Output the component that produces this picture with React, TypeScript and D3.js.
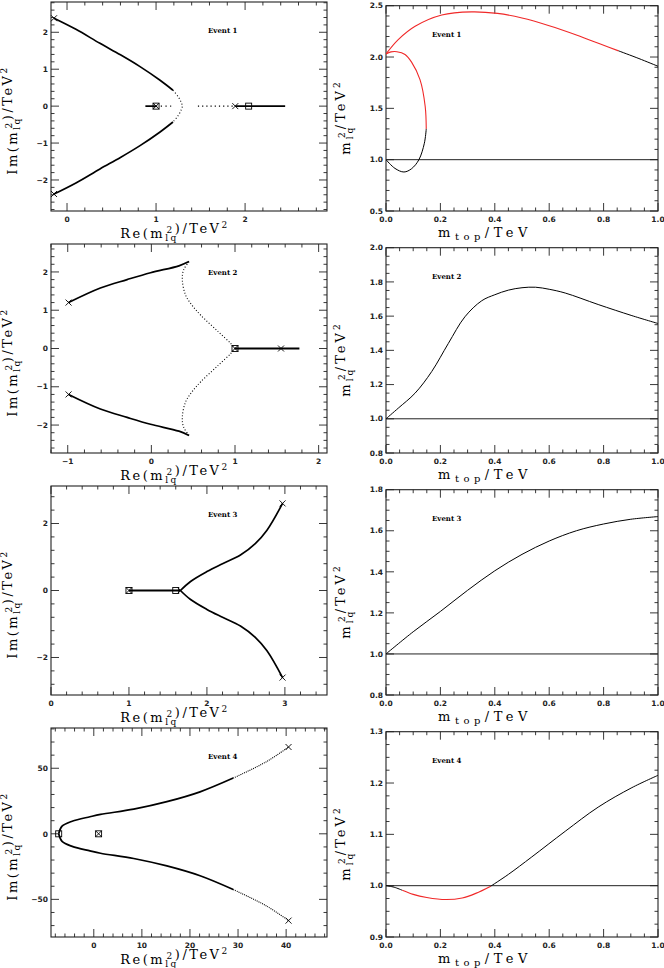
import React from 'react';
import * as d3 from 'd3';

// ---------- Event 1 (left: complex plane) ----------
const ev1UpRe = [-0.146, 0.1, 0.37, 0.6, 0.82, 1.045, 1.19];
const ev1UpIm = [2.38, 2.08, 1.7, 1.39, 1.07, 0.7, 0.43];
const ev1LoRe = [-0.146, 0.1, 0.37, 0.6, 0.82, 1.045, 1.19];
const ev1LoIm = [-2.38, -2.08, -1.7, -1.39, -1.07, -0.7, -0.43];
const ev1VtxRe = [1.19, 1.25, 1.283, 1.295, 1.283, 1.25, 1.19];
const ev1VtxIm = [0.43, 0.25, 0.1, 0, -0.1, -0.25, -0.43];
const ev1SolidARe = [0.88, 1.0];
const ev1DotARe = [1.0, 1.17];
const ev1DotBRe = [1.47, 1.89];
const ev1SolidBRe = [1.89, 2.45];
const ev1SqRe = [1.0, 2.04];
const ev1SqIm = [0, 0];
const ev1XRe = [-0.146, -0.146, 1.0, 1.89];
const ev1XIm = [2.38, -2.38, 0, 0];

// ---------- Event 1 (right: m_lq^2 vs m_top) ----------
const ev1RedUpX = [0, 0.045, 0.107, 0.205, 0.315, 0.41, 0.5, 0.6, 0.7, 0.8, 0.855];
const ev1RedUpY = [2.03, 2.17, 2.3, 2.41, 2.44, 2.425, 2.38, 2.305, 2.215, 2.115, 2.06];
const ev1BlkUpX = [0.855, 0.93, 1.0];
const ev1BlkUpY = [2.06, 1.985, 1.91];
const ev1RedLoopX = [0, 0.018, 0.04, 0.07, 0.094, 0.125, 0.144, 0.148];
const ev1RedLoopY = [2.03, 2.05, 2.052, 2.025, 1.95, 1.78, 1.52, 1.3];
const ev1BlkLoopX = [0.148, 0.141, 0.121, 0.094, 0.066, 0.033, 0];
const ev1BlkLoopY = [1.3, 1.16, 1.0, 0.912, 0.88, 0.915, 1.0];

// ---------- Event 2 ----------
const ev2UpRe = [-0.99, -0.61, -0.29, -0.01, 0.33, 0.45];
const ev2UpIm = [1.2, 1.58, 1.8, 1.98, 2.16, 2.27];
const ev2LoRe = [-0.99, -0.61, -0.29, -0.01, 0.33, 0.45];
const ev2LoIm = [-1.2, -1.58, -1.8, -1.98, -2.16, -2.27];
const ev2CuspUpRe = [0.45, 0.385, 0.37, 0.41, 0.49, 0.59, 0.8, 0.95, 1.0];
const ev2CuspUpIm = [2.27, 2.05, 1.8, 1.39, 1.12, 0.87, 0.44, 0.13, 0];
const ev2CuspLoRe = [0.45, 0.385, 0.37, 0.41, 0.49, 0.59, 0.8, 0.95, 1.0];
const ev2CuspLoIm = [-2.27, -2.05, -1.8, -1.39, -1.12, -0.87, -0.44, -0.13, 0];
const ev2AxisRe = [1.0, 1.77];
const ev2SqRe = [1.0];
const ev2SqIm = [0];
const ev2XRe = [-0.99, -0.99, 1.0, 1.55];
const ev2XIm = [1.2, -1.2, 0, 0];

const ev2CurveX = [0, 0.045, 0.107, 0.168, 0.229, 0.29, 0.352, 0.4, 0.45, 0.5, 0.55, 0.6, 0.659, 0.78, 0.904, 1.0];
const ev2CurveY = [1.0, 1.062, 1.15, 1.276, 1.44, 1.596, 1.69, 1.725, 1.752, 1.766, 1.769, 1.757, 1.735, 1.668, 1.603, 1.557];

// ---------- Event 3 ----------
const ev3UpRe = [1.66, 1.79, 2.0, 2.2, 2.43, 2.62, 2.77, 2.97];
const ev3UpIm = [0, 0.27, 0.565, 0.8, 1.06, 1.4, 1.8, 2.6];
const ev3LoRe = [1.66, 1.79, 2.0, 2.2, 2.43, 2.62, 2.77, 2.97];
const ev3LoIm = [0, -0.27, -0.565, -0.8, -1.06, -1.4, -1.8, -2.6];
const ev3AxisRe = [1.0, 1.66];
const ev3SqRe = [1.0, 1.6];
const ev3SqIm = [0, 0];
const ev3XRe = [1.0, 1.66, 2.97, 2.97];
const ev3XIm = [0, 0, 2.6, -2.6];

const ev3CurveX = [0, 0.1, 0.2, 0.3, 0.4, 0.5, 0.6, 0.7, 0.8, 0.9, 1.0];
const ev3CurveY = [1.0, 1.108, 1.207, 1.31, 1.405, 1.485, 1.55, 1.6, 1.633, 1.656, 1.669];

// ---------- Event 4 ----------
const ev4UpRe = [-7.3, -6.6, -4.5, -0.8, 1.4, 8.3, 15.2, 22.1, 29];
const ev4UpIm = [0, 5.8, 9.6, 13.0, 14.8, 18.8, 24.5, 32.0, 42.5];
const ev4LoRe = [-7.3, -6.6, -4.5, -0.8, 1.4, 8.3, 15.2, 22.1, 29];
const ev4LoIm = [0, -5.8, -9.6, -13.0, -14.8, -18.8, -24.5, -32.0, -42.5];
const ev4TailUpRe = [29, 35.9, 40.5];
const ev4TailUpIm = [42.5, 55.0, 66.2];
const ev4TailLoRe = [29, 35.9, 40.5];
const ev4TailLoIm = [-42.5, -55.0, -66.2];
const ev4SqRe = [-7.3, 1.0];
const ev4SqIm = [0, 0];
const ev4XRe = [1.0, 40.5, 40.5];
const ev4XIm = [0, 66.2, -66.2];

const ev4BlkAX = [0, 0.03, 0.06];
const ev4BlkAY = [1.0, 0.997, 0.991];
const ev4RedX = [0.06, 0.1, 0.15, 0.22, 0.28, 0.33, 0.385];
const ev4RedY = [0.991, 0.983, 0.977, 0.973, 0.976, 0.985, 0.999];
const ev4BlkBX = [0.385, 0.45, 0.536, 0.659, 0.78, 0.904, 1.0];
const ev4BlkBY = [0.999, 1.022, 1.056, 1.106, 1.153, 1.191, 1.215];

// ---------- axis ticks ----------
const ev1LeftXTicks = [0, 1, 2];
const ev1LeftYTicks = [-2, -1, 0, 1, 2];
const ev2LeftXTicks = [-1, 0, 1, 2];
const ev2LeftYTicks = [-2, -1, 0, 1, 2];
const ev3LeftXTicks = [0, 1, 2, 3];
const ev3LeftYTicks = [-2, 0, 2];
const ev4LeftXTicks = [0, 10, 20, 30, 40];
const ev4LeftYTicks = [-50, 0, 50];
const rightXTicks = [0, 0.2, 0.4, 0.6, 0.8, 1.0];
const ev1RightYTicks = [0.5, 1.0, 1.5, 2.0, 2.5];
const ev2RightYTicks = [0.8, 1.0, 1.2, 1.4, 1.6, 1.8, 2.0];
const ev3RightYTicks = [0.8, 1.0, 1.2, 1.4, 1.6, 1.8];
const ev4RightYTicks = [0.9, 1.0, 1.1, 1.2, 1.3];
const eventLabels = ['Event 1', 'Event 2', 'Event 3', 'Event 4'];

type Seg = { x: number[]; y: number[]; color?: string; dash?: string; width?: number };
type Mk = { x: number[]; y: number[]; kind: 'x' | 'sq' };
type Cfg = {
  top: number;
  side: 'L' | 'R';
  xDom: [number, number];
  yDom: [number, number];
  xTicks: number[];
  yTicks: number[];
  xMinor: number;
  yMinor: number;
  xFmt: (v: number) => string;
  yFmt: (v: number) => string;
  label: string;
  segs: Seg[];
  marks: Mk[];
  hline?: number;
};

const INK = '#222';
const RED = '#f02828';
const intFmt = (v: number) => (v < 0 ? '\u2212' + Math.abs(v) : String(v));
const f1 = d3.format('.1f');
const TF = 'DejaVu Serif';
const TS = 13;
const SS = 9;

// m^2_lq block: subscript "lq" with superscript "2" stacked above it
function MLq({ ls }: { ls: number }) {
  const lqW = 0.96 * SS;
  const twoW = 0.64 * SS;
  const back = -(lqW + 2 * ls) + (lqW - twoW) / 2;
  const fwd = lqW + ls - ((lqW - twoW) / 2 + twoW + ls);
  return (
    <>
      <tspan fontSize={SS} dy={2.5}>lq</tspan>
      <tspan fontSize={SS} dx={back} dy={-7.5}>2</tspan>
      <tspan dx={fwd + 1} dy={5}>{''}</tspan>
    </>
  );
}

function Panel({ c }: { c: Cfg }) {
  const L = c.side === 'L';
  const x0 = L ? 51 : 386;
  const x1 = L ? 327 : 658;
  const y0 = c.top + (L ? 2 : 5.7);
  const y1 = c.top + 211;
  const xs = d3.scaleLinear().domain(c.xDom).range([x0, x1]);
  const ys = d3.scaleLinear().domain(c.yDom).range([y1, y0]);
  const line = d3
    .line<[number, number]>()
    .x((d) => xs(d[0]))
    .y((d) => ys(d[1]))
    .curve(d3.curveCatmullRom.alpha(0.5));
  const minors = (dom: [number, number], step: number) => {
    const out: number[] = [];
    const a = Math.ceil(dom[0] / step - 1e-6);
    const b = Math.floor(dom[1] / step + 1e-6);
    for (let i = a; i <= b; i++) out.push(+(i * step).toFixed(6));
    return out;
  };
  const xMin = minors(c.xDom, c.xMinor).filter((v) => !c.xTicks.some((t) => Math.abs(t - v) < 1e-6));
  const yMin = minors(c.yDom, c.yMinor).filter((v) => !c.yTicks.some((t) => Math.abs(t - v) < 1e-6));
  const MJ = 8;
  const MN = 3.5;
  const tickFont = { fontFamily: 'DejaVu Sans', fontWeight: 700, fontSize: 7.5, fill: INK } as const;
  const LSx = 2.5;
  const titleFont = { fontFamily: TF, fontSize: TS, fill: '#000' } as const;
  return (
    <g>
      <defs>
        <clipPath id={`clip-${c.side}-${c.top}`}>
          <rect x={x0} y={y0} width={x1 - x0} height={y1 - y0} />
        </clipPath>
      </defs>
      <g stroke={INK} strokeWidth={0.9}>
        {c.xTicks.map((t) => (
          <g key={'xt' + t}>
            <line x1={xs(t)} x2={xs(t)} y1={y1} y2={y1 - MJ} />
            <line x1={xs(t)} x2={xs(t)} y1={y0} y2={y0 + MJ} />
          </g>
        ))}
        {xMin.map((t) => (
          <g key={'xm' + t}>
            <line x1={xs(t)} x2={xs(t)} y1={y1} y2={y1 - MN} />
            <line x1={xs(t)} x2={xs(t)} y1={y0} y2={y0 + MN} />
          </g>
        ))}
        {c.yTicks.map((t) => (
          <g key={'yt' + t}>
            <line x1={x0} x2={x0 + MJ} y1={ys(t)} y2={ys(t)} />
            <line x1={x1} x2={x1 - MJ} y1={ys(t)} y2={ys(t)} />
          </g>
        ))}
        {yMin.map((t) => (
          <g key={'ym' + t}>
            <line x1={x0} x2={x0 + MN} y1={ys(t)} y2={ys(t)} />
            <line x1={x1} x2={x1 - MN} y1={ys(t)} y2={ys(t)} />
          </g>
        ))}
        <rect x={x0} y={y0} width={x1 - x0} height={y1 - y0} fill="none" strokeWidth={1.1} />
      </g>
      {c.xTicks.map((t) => (
        <text key={'xl' + t} x={xs(t)} y={y1 + 10.5} textAnchor="middle" {...tickFont}>
          {c.xFmt(t)}
        </text>
      ))}
      {c.yTicks.map((t) => (
        <text key={'yl' + t} x={x0 - 3} y={ys(t)} dy="0.36em" textAnchor="end" {...tickFont}>
          {c.yFmt(t)}
        </text>
      ))}
      <g clipPath={`url(#clip-${c.side}-${c.top})`}>
        {c.hline !== undefined && (
          <line x1={x0} x2={x1} y1={ys(c.hline)} y2={ys(c.hline)} stroke={INK} strokeWidth={1} />
        )}
        {c.segs.map((s, i) => (
          <path
            key={'s' + i}
            d={line(s.x.map((v, j) => [v, s.y[j]] as [number, number])) || ''}
            fill="none"
            stroke={s.color || '#000'}
            strokeWidth={s.width || 1}
            strokeDasharray={s.dash}
          />
        ))}
      </g>
      {c.marks.map((m, i) =>
        m.x.map((v, j) => {
          const px = xs(v);
          const py = ys(m.y[j]);
          return m.kind === 'x' ? (
            <path
              key={'m' + i + '-' + j}
              d={`M${px - 3},${py - 3}L${px + 3},${py + 3}M${px - 3},${py + 3}L${px + 3},${py - 3}`}
              stroke="#000"
              strokeWidth={0.9}
            />
          ) : (
            <rect key={'m' + i + '-' + j} x={px - 3} y={py - 3} width={6} height={6} fill="none" stroke="#000" strokeWidth={0.9} />
          );
        })
      )}
      <text
        x={L ? 208 : 432}
        y={c.top + (L ? 33 : 36.5)}
        fontFamily="DejaVu Serif"
        fontWeight={700}
        fontSize={7}
        fill="#000"
      >
        {c.label}
      </text>
      {L ? (
        <>
          <text x={175} y={c.top + 238} textAnchor="middle" {...titleFont} letterSpacing={LSx}>
            Re(m
            <MLq ls={LSx} />
            <tspan>)/TeV</tspan>
            <tspan fontSize={SS} dy={-5}>2</tspan>
          </text>
          <text transform={`translate(17,${c.top + 120}) rotate(-90)`} textAnchor="middle" {...titleFont} letterSpacing={LSx}>
            Im(m
            <MLq ls={LSx} />
            <tspan>)/TeV</tspan>
            <tspan fontSize={SS} dy={-5}>2</tspan>
          </text>
        </>
      ) : (
        <>
          <text x={485} y={c.top + 236.5} textAnchor="middle" {...titleFont} letterSpacing={4.5}>
            m
            <tspan fontSize={SS + 1} dy={3}>top</tspan>
            <tspan dy={-3}>/TeV</tspan>
          </text>
          <text transform={`translate(350,${c.top + 117}) rotate(-90)`} textAnchor="middle" {...titleFont} letterSpacing={3}>
            m
            <MLq ls={3} />
            <tspan>/TeV</tspan>
            <tspan fontSize={SS} dy={-5}>2</tspan>
          </text>
        </>
      )}
    </g>
  );
}

const z = (a: number[]) => a.map(() => 0);

const configs: Cfg[] = [
  {
    top: 0, side: 'L', xDom: [-0.18, 2.92], yDom: [-2.84, 2.82], xTicks: ev1LeftXTicks, yTicks: ev1LeftYTicks,
    xMinor: 0.2, yMinor: 0.2, xFmt: intFmt, yFmt: intFmt, label: eventLabels[0],
    segs: [
      { x: ev1UpRe, y: ev1UpIm, width: 1.7 },
      { x: ev1LoRe, y: ev1LoIm, width: 1.7 },
      { x: ev1VtxRe, y: ev1VtxIm, width: 1.1, dash: '1,2.2' },
      { x: ev1SolidARe, y: z(ev1SolidARe), width: 1.7 },
      { x: ev1DotARe, y: z(ev1DotARe), width: 1.2, dash: '1.2,3.5' },
      { x: ev1DotBRe, y: z(ev1DotBRe), width: 1.2, dash: '1.2,3' },
      { x: ev1SolidBRe, y: z(ev1SolidBRe), width: 1.7 },
    ],
    marks: [ { x: ev1SqRe, y: ev1SqIm, kind: 'sq' }, { x: ev1XRe, y: ev1XIm, kind: 'x' } ],
  },
  {
    top: 0, side: 'R', xDom: [0, 1], yDom: [0.5, 2.5], xTicks: rightXTicks, yTicks: ev1RightYTicks,
    xMinor: 0.05, yMinor: 0.1, xFmt: f1, yFmt: f1, label: eventLabels[0], hline: 1.0,
    segs: [
      { x: ev1RedUpX, y: ev1RedUpY, color: RED, width: 1.1 },
      { x: ev1BlkUpX, y: ev1BlkUpY, width: 1 },
      { x: ev1RedLoopX, y: ev1RedLoopY, color: RED, width: 1.1 },
      { x: ev1BlkLoopX, y: ev1BlkLoopY, width: 1 },
    ],
    marks: [],
  },
  {
    top: 242, side: 'L', xDom: [-1.2, 2.1], yDom: [-2.73, 2.73], xTicks: ev2LeftXTicks, yTicks: ev2LeftYTicks,
    xMinor: 0.2, yMinor: 0.2, xFmt: intFmt, yFmt: intFmt, label: eventLabels[1],
    segs: [
      { x: ev2UpRe, y: ev2UpIm, width: 1.7 },
      { x: ev2LoRe, y: ev2LoIm, width: 1.7 },
      { x: ev2CuspUpRe, y: ev2CuspUpIm, width: 1.1, dash: '1,2' },
      { x: ev2CuspLoRe, y: ev2CuspLoIm, width: 1.1, dash: '1,2' },
      { x: ev2AxisRe, y: z(ev2AxisRe), width: 2 },
    ],
    marks: [ { x: ev2SqRe, y: ev2SqIm, kind: 'sq' }, { x: ev2XRe, y: ev2XIm, kind: 'x' } ],
  },
  {
    top: 242, side: 'R', xDom: [0, 1], yDom: [0.8, 2.0], xTicks: rightXTicks, yTicks: ev2RightYTicks,
    xMinor: 0.05, yMinor: 0.05, xFmt: f1, yFmt: f1, label: eventLabels[1], hline: 1.0,
    segs: [ { x: ev2CurveX, y: ev2CurveY, width: 1 } ],
    marks: [],
  },
  {
    top: 484, side: 'L', xDom: [0, 3.54], yDom: [-3.12, 3.12], xTicks: ev3LeftXTicks, yTicks: ev3LeftYTicks,
    xMinor: 0.2, yMinor: 0.4, xFmt: intFmt, yFmt: intFmt, label: eventLabels[2],
    segs: [
      { x: ev3UpRe, y: ev3UpIm, width: 1.7 },
      { x: ev3LoRe, y: ev3LoIm, width: 1.7 },
      { x: ev3AxisRe, y: z(ev3AxisRe), width: 2 },
    ],
    marks: [ { x: ev3SqRe, y: ev3SqIm, kind: 'sq' }, { x: ev3XRe, y: ev3XIm, kind: 'x' } ],
  },
  {
    top: 484, side: 'R', xDom: [0, 1], yDom: [0.8, 1.8], xTicks: rightXTicks, yTicks: ev3RightYTicks,
    xMinor: 0.05, yMinor: 0.05, xFmt: f1, yFmt: f1, label: eventLabels[2], hline: 1.0,
    segs: [ { x: ev3CurveX, y: ev3CurveY, width: 1 } ],
    marks: [],
  },
  {
    top: 726, side: 'L', xDom: [-8.9, 48.5], yDom: [-78.7, 80.7], xTicks: ev4LeftXTicks, yTicks: ev4LeftYTicks,
    xMinor: 2, yMinor: 10, xFmt: intFmt, yFmt: intFmt, label: eventLabels[3],
    segs: [
      { x: ev4UpRe, y: ev4UpIm, width: 1.7 },
      { x: ev4LoRe, y: ev4LoIm, width: 1.7 },
      { x: ev4TailUpRe, y: ev4TailUpIm, width: 1.1, dash: '1,1' },
      { x: ev4TailLoRe, y: ev4TailLoIm, width: 1.1, dash: '1,1' },
    ],
    marks: [ { x: ev4SqRe, y: ev4SqIm, kind: 'sq' }, { x: ev4XRe, y: ev4XIm, kind: 'x' } ],
  },
  {
    top: 726, side: 'R', xDom: [0, 1], yDom: [0.9, 1.3], xTicks: rightXTicks, yTicks: ev4RightYTicks,
    xMinor: 0.05, yMinor: 0.025, xFmt: f1, yFmt: f1, label: eventLabels[3], hline: 1.0,
    segs: [
      { x: ev4BlkAX, y: ev4BlkAY, width: 1 },
      { x: ev4RedX, y: ev4RedY, color: RED, width: 1.1 },
      { x: ev4BlkBX, y: ev4BlkBY, width: 1 },
    ],
    marks: [],
  },
];

export default function App() {
  return (
    <svg
      width={664}
      height={968}
      viewBox="0 0 664 968"
      style={{ position: 'absolute', left: 0, top: 0, background: '#fff' }}
    >
      <rect width={664} height={968} fill="#fff" />
      {configs.map((c, i) => (
        <Panel key={i} c={c} />
      ))}
    </svg>
  );
}
